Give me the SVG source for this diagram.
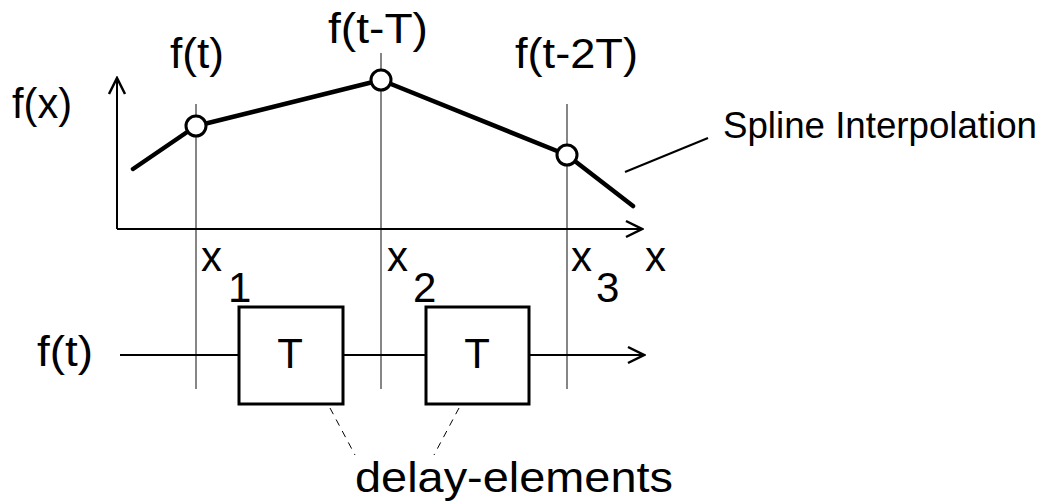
<svg xmlns="http://www.w3.org/2000/svg" width="1045" height="504" viewBox="0 0 1045 504">
<style>
text{font-family:"Liberation Sans",Arial,sans-serif;fill:#000}
.lbl{font-size:42px}
.sp{font-size:36px}
.thin{stroke:#444;stroke-width:1.3;fill:none}
.axis{stroke:#000;stroke-width:2;fill:none}
.curve{stroke:#000;stroke-width:4.5;fill:none;stroke-linecap:round;stroke-linejoin:round}
.pt{stroke:#000;stroke-width:3;fill:#fff}
.box{stroke:#000;stroke-width:3;fill:#fff}
.dash{stroke:#000;stroke-width:1;stroke-dasharray:7,6;fill:none}
</style>
<defs>
<marker id="arr" viewBox="0 0 20 20" refX="18" refY="10" markerWidth="20" markerHeight="20" markerUnits="userSpaceOnUse" orient="auto">
<path d="M2,2 L18,10 L2,18" fill="none" stroke="#000" stroke-width="2.5"/>
</marker>
</defs>
<g id="gridlines">
<line class="thin" x1="196" y1="104" x2="196" y2="389"/>
<line class="thin" x1="381" y1="53" x2="381" y2="389"/>
<line class="thin" x1="567" y1="104" x2="567" y2="389"/>
</g>
<g id="axes">
<line class="axis" x1="117" y1="229" x2="117" y2="78" marker-end="url(#arr)"/>
<line class="axis" x1="117" y1="229" x2="642" y2="229" marker-end="url(#arr)"/>
</g>
<g id="curve">
<polyline class="curve" points="133,169 196,126 381,80 567,155 633,206"/>
<circle class="pt" cx="196" cy="126" r="10"/>
<circle class="pt" cx="381" cy="80" r="10"/>
<circle class="pt" cx="567" cy="155" r="10"/>
</g>
<g id="connectors">
<line stroke="#000" stroke-width="2" x1="625" y1="172" x2="708" y2="138"/>
<line class="axis" x1="120" y1="355" x2="239" y2="355"/>
<line class="axis" x1="343" y1="355" x2="426" y2="355"/>
<line class="axis" x1="529" y1="355" x2="644" y2="355" marker-end="url(#arr)"/>
<line class="dash" x1="330" y1="408" x2="355" y2="455"/>
<line class="dash" x1="459" y1="408" x2="434" y2="455"/>
</g>
<g id="delay1">
<rect class="box" x="239" y="307" width="104" height="97"/>
<text class="lbl" x="290" y="368" text-anchor="middle">T</text>
</g>
<g id="delay2">
<rect class="box" x="426" y="307" width="103" height="97"/>
<text class="lbl" x="477" y="368" text-anchor="middle">T</text>
</g>
<g id="labels">
<text class="lbl" x="12" y="118" textLength="60" lengthAdjust="spacingAndGlyphs">f(x)</text>
<text class="lbl" x="170" y="68" textLength="54" lengthAdjust="spacingAndGlyphs">f(t)</text>
<text class="lbl" x="328" y="43" textLength="100" lengthAdjust="spacingAndGlyphs">f(t-T)</text>
<text class="lbl" x="515" y="68" textLength="123" lengthAdjust="spacingAndGlyphs">f(t-2T)</text>
<text class="sp" x="723" y="138" textLength="314" lengthAdjust="spacingAndGlyphs">Spline Interpolation</text>
<text class="lbl" x="201" y="271">x</text>
<text class="lbl" x="228" y="302">1</text>
<text class="lbl" x="387" y="271">x</text>
<text class="lbl" x="413" y="302">2</text>
<text class="lbl" x="571" y="271">x</text>
<text class="lbl" x="596" y="302">3</text>
<text class="lbl" x="645" y="271">x</text>
<text class="lbl" x="37" y="366" textLength="56" lengthAdjust="spacingAndGlyphs">f(t)</text>
<text class="lbl" x="355" y="492" textLength="318" lengthAdjust="spacingAndGlyphs">delay-elements</text>
</g>
</svg>
